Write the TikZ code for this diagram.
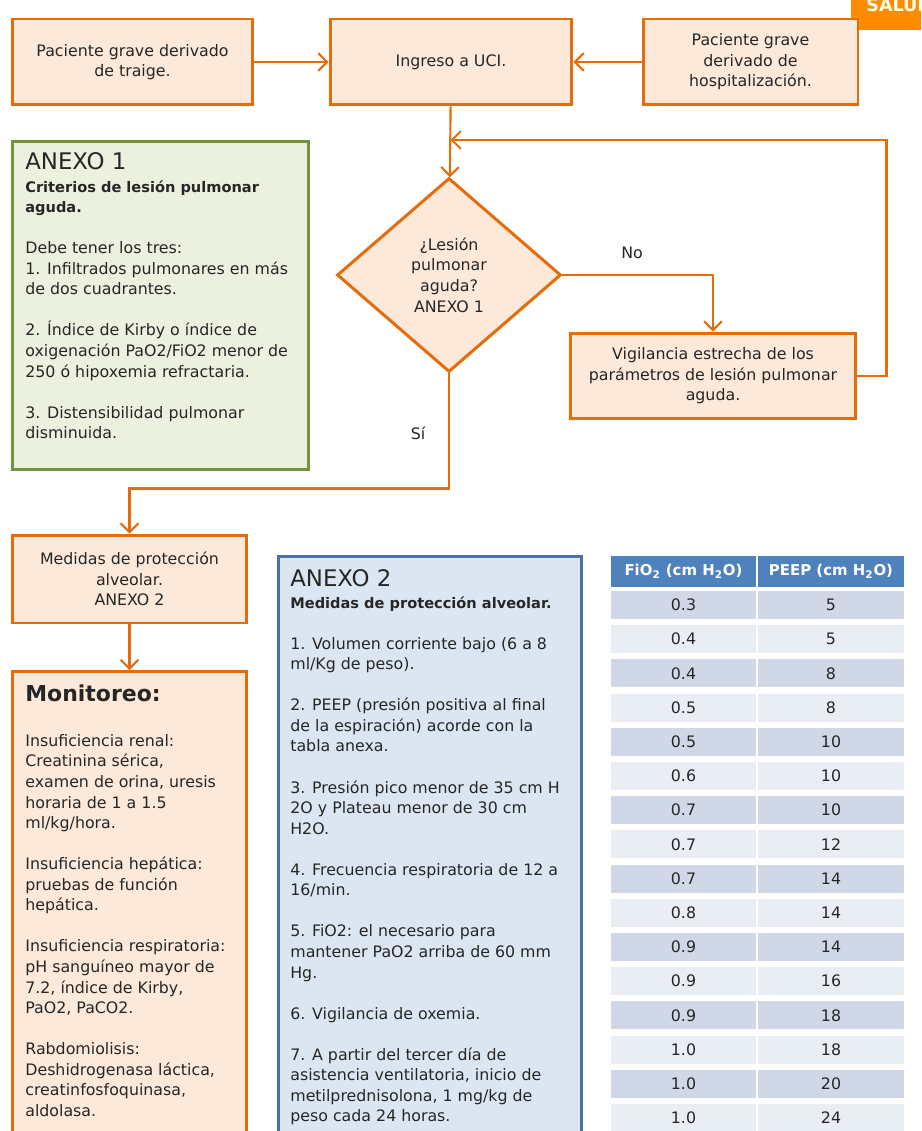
\documentclass[tikz,border=0pt]{standalone}
\usepackage{fontspec}
\setmainfont{DejaVu Sans}
\usetikzlibrary{shapes.geometric,arrows.meta}
\definecolor{naranja}{HTML}{E46C0A}
\definecolor{fondo}{HTML}{FDE9D9}
\definecolor{verde}{HTML}{77933C}
\definecolor{verdeclaro}{HTML}{EBF1DE}
\definecolor{azul}{HTML}{4A72AA}
\definecolor{azulclaro}{HTML}{DCE6F2}
\definecolor{cabecera}{HTML}{4F81BD}
\definecolor{filaosc}{HTML}{D0D8E8}
\definecolor{filaclara}{HTML}{E9EDF4}
\definecolor{texto}{HTML}{262626}
\definecolor{salud}{HTML}{FF8C00}
\newcommand{\cuerpo}{\fontsize{9}{11.7}\selectfont}
\newcommand{\titulo}{\fontsize{13}{15}\selectfont}
\newcommand{\sub}{\fontsize{8.3}{11.7}\selectfont\bfseries}
\tikzset{
  caja/.style={draw=naranja,fill=fondo,line width=1.7pt,align=center,text=texto,font=\cuerpo},
  anexo/.style={line width=1.7pt,anchor=north west},
  flecha/.style={-{Straight Barb[length=5pt,width=10pt]},draw=naranja,line width=1.2pt},
  etiqueta/.style={text=texto,font=\cuerpo},
  parrafo/.style={text=texto,font=\cuerpo,align=left,anchor=north west,inner sep=0pt},
  cabeza/.style={fill=cabecera,text=white,font=\fontsize{8.5}{10}\selectfont\bfseries,minimum height=0.62cm,inner sep=0pt},
  celda/.style={minimum height=0.56cm,text=texto,font=\cuerpo,inner sep=0pt}
}
\begin{document}
\begin{tikzpicture}[x=0.02cm,y=-0.02cm]
  \clip (0,0) rectangle (921,1131);
  \fill[white] (0,0) rectangle (921,1131);
  \fill[salud] (851,0) rectangle (921,30);
  \node[text=white!92!yellow,font=\fontsize{10}{12}\selectfont\bfseries,anchor=base west,inner sep=0pt] (salu) at (866,12) {SALUD};

  \node[caja,minimum width=4.82cm,minimum height=1.72cm] (traige) at (132.5,62) {Paciente grave derivado\\de traige.};
  \node[caja,minimum width=4.84cm,minimum height=1.72cm] (uci) at (451,62) {Ingreso a UCI.};
  \node[caja,minimum width=4.3cm,minimum height=1.72cm] (hosp) at (750.5,62) {Paciente grave\\derivado de\\hospitalización.};
  \node[caja,diamond,minimum width=4.48cm,minimum height=3.88cm,inner sep=0pt] (lesion) at (449,275) {¿Lesión\\pulmonar\\aguda?\\ANEXO 1};
  \node[caja,minimum width=5.72cm,minimum height=1.72cm] (vig) at (713,376) {Vigilancia estrecha de los\\parámetros de lesión pulmonar\\aguda.};
  \node[caja,minimum width=4.7cm,minimum height=1.76cm] (medidas) at (129.5,579) {Medidas de protección\\alveolar.\\ANEXO 2};
  \node[caja,minimum width=4.7cm,minimum height=9.8cm,anchor=north] (monitoreo) at (129.5,670) {};

  \draw[flecha] (traige) -- (uci);
  \draw[flecha] (hosp) -- (uci);
  \draw[flecha] (uci) -- (lesion);
  \coordinate (retorno) at (450.5,140);
  \draw[flecha] (vig.east) -- ++(29,0) |- (retorno);
  \draw[flecha] (lesion.east) -| (vig.north);
  \node[etiqueta] (no) at (632,253) {No};
  \draw[flecha] (lesion.south) -- ++(0,115) -| (medidas.north);
  \node[etiqueta] (si) at (418,433) {Sí};
  \draw[flecha] (medidas) -- (monitoreo);

  \node[anexo,draw=verde,fill=verdeclaro,minimum width=5.92cm,minimum height=6.56cm] (anexouno) at (11,140) {};
  \node[etiqueta,font=\titulo,anchor=base west,inner sep=0pt] (tituno) at (25,170) {ANEXO 1};
  \node[parrafo] (textouno) at (25,180) {{\sub Criterios de lesión pulmonar}\\{\sub aguda.}\\[11.7pt]Debe tener los tres:\\1. Infiltrados pulmonares en más\\de dos cuadrantes.\\[11.7pt]2. Índice de Kirby o índice de\\oxigenación PaO2/FiO2 menor de\\250 ó hipoxemia refractaria.\\[11.7pt]3. Distensibilidad pulmonar\\disminuida.};

  \node[etiqueta,font=\fontsize{12.5}{15}\selectfont\bfseries,anchor=base west,inner sep=0pt] (titmon) at (25,701) {Monitoreo:};
  \node[parrafo] (textomon) at (25,734) {Insuficiencia renal:\\Creatinina sérica,\\examen de orina, uresis\\horaria de 1 a 1.5\\ml/kg/hora.\\[11.7pt]Insuficiencia hepática:\\pruebas de función\\hepática.\\[11.7pt]Insuficiencia respiratoria:\\pH sanguíneo mayor de\\7.2, índice de Kirby,\\PaO2, PaCO2.\\[11.7pt]Rabdomiolisis:\\Deshidrogenasa láctica,\\creatinfosfoquinasa,\\aldolasa.};

  \node[anexo,draw=azul,fill=azulclaro,minimum width=6.06cm,minimum height=12cm] (anexodos) at (277,555) {};
  \node[etiqueta,font=\titulo,anchor=base west,inner sep=0pt] (titdos) at (290,586) {ANEXO 2};
  \node[parrafo] (textodos) at (290,596) {{\sub Medidas de protección alveolar.}\\[11.7pt]1. Volumen corriente bajo (6 a 8\\ml/Kg de peso).\\[11.7pt]2. PEEP (presión positiva al final\\de la espiración) acorde con la\\tabla anexa.\\[11.7pt]3. Presión pico menor de 35 cm H\\2O y Plateau menor de 30 cm\\H2O.\\[11.7pt]4. Frecuencia respiratoria de 12 a\\16/min.\\[11.7pt]5. FiO2: el necesario para\\mantener PaO2 arriba de 60 mm\\Hg.\\[11.7pt]6. Vigilancia de oxemia.\\[11.7pt]7. A partir del tercer día de\\asistencia ventilatoria, inicio de\\metilprednisolona, 1 mg/kg de\\peso cada 24 horas.};

  \node[cabeza,minimum width=2.9cm] (fioh) at (683.5,571.5) {FiO\textsubscript{2} (cm H\textsubscript{2}O)};
  \node[cabeza,minimum width=2.92cm] (peeph) at (831,571.5) {PEEP (cm H\textsubscript{2}O)};
  \foreach \fio/\peep [count=\i from 0] in {0.3/5,0.4/5,0.4/8,0.5/8,0.5/10,0.6/10,0.7/10,0.7/12,0.7/14,0.8/14,0.9/14,0.9/16,0.9/18,1.0/18,1.0/20,1.0/24}{
    \ifodd\i \def\tono{filaclara}\else \def\tono{filaosc}\fi
    \node[celda,fill=\tono,minimum width=2.9cm] (fio\i) at (683.5,{605+34.2*\i}) {\fio};
    \node[celda,fill=\tono,minimum width=2.92cm] (peep\i) at (831,{605+34.2*\i}) {\peep};
  }
\end{tikzpicture}
\end{document}
